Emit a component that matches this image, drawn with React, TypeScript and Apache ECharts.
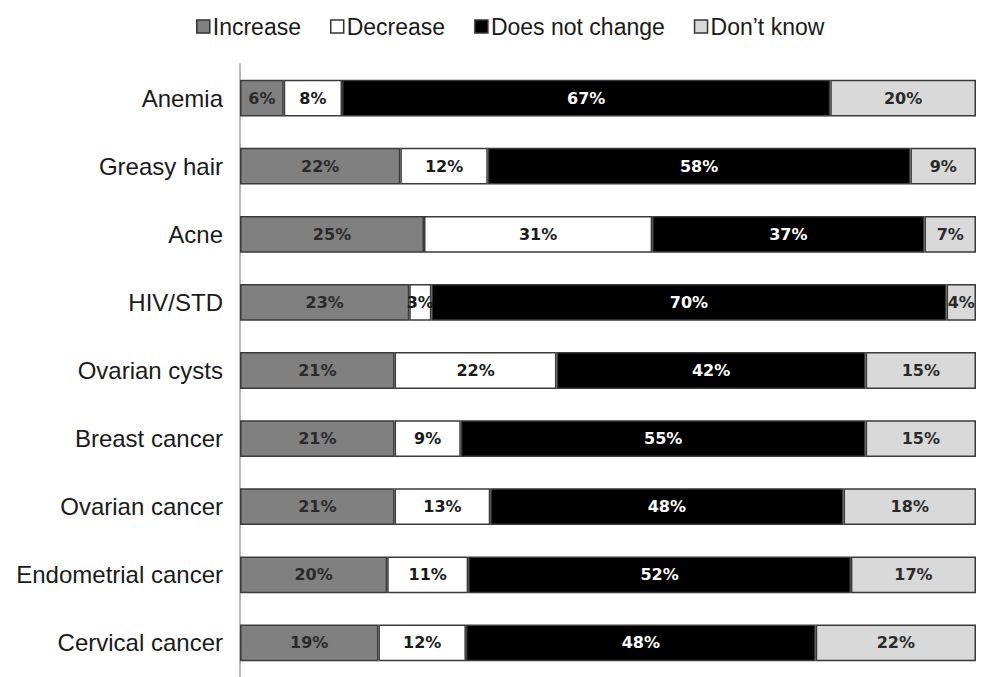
import React, { useEffect, useRef } from "react";
import * as echarts from "echarts";

const categories = [
  "Anemia",
  "Greasy hair",
  "Acne",
  "HIV/STD",
  "Ovarian cysts",
  "Breast cancer",
  "Ovarian cancer",
  "Endometrial cancer",
  "Cervical cancer",
];
const increase = [6, 22, 25, 23, 21, 21, 21, 20, 19];
const decrease = [8, 12, 31, 3, 22, 9, 13, 11, 12];
const noChange = [67, 58, 37, 70, 42, 55, 48, 52, 48];
const dontKnow = [20, 9, 7, 4, 15, 15, 18, 17, 22];
const seriesNames = ["Increase", "Decrease", "Does not change", "Don\u2019t know"];

const fills = ["#808080", "#ffffff", "#000000", "#d9d9d9"];
const labelColors = ["#2a2a2a", "#1a1a1a", "#ffffff", "#2a2a2a"];

export default function App() {
  const ref = useRef<HTMLDivElement>(null);
  useEffect(() => {
    if (!ref.current) return;
    const chart = echarts.init(ref.current, null, { renderer: "svg" });
    const all = [increase, decrease, noChange, dontKnow];
    const sums = categories.map((_, i) => all.reduce((s, arr) => s + arr[i], 0));
    const ordered = (arr: number[]) => arr.slice().reverse();
    const revSums = ordered(sums);
    chart.setOption({
      animation: false,
      backgroundColor: "#ffffff",
      legend: {
        top: 10,
        left: 191,
        itemWidth: 13,
        itemHeight: 13,
        itemGap: 29,
        icon: "rect",
        textStyle: { fontFamily: "Liberation Sans", fontSize: 23, color: "#1a1a1a", padding: [0, 0, 0, -2] },
        data: seriesNames.map((n, i) => ({
          name: n,
          itemStyle: { color: fills[i], borderColor: "#333", borderWidth: 1.5 },
        })),
      },
      grid: { left: 240, right: 11, top: 64, bottom: -6, containLabel: false },
      xAxis: {
        type: "value",
        min: 0,
        max: 100,
        show: false,
      },
      yAxis: {
        type: "category",
        data: ordered(categories),
        axisLine: { show: true, lineStyle: { color: "#b8b8b8", width: 2 } },
        axisTick: { show: false },
        axisLabel: {
          fontFamily: "Liberation Sans",
          fontSize: 24,
          color: "#1a1a1a",
          margin: 17,
        },
      },
      series: all.map((arr, si) => {
        const rev = ordered(arr);
        return {
          name: seriesNames[si],
          type: "bar",
          stack: "total",
          barCategoryGap: "46%",
          data: rev.map((v, i) => ({ value: (v / revSums[i]) * 100, raw: v })),
          itemStyle: { color: fills[si], borderColor: "#3a3a3a", borderWidth: 1.5 },
          label: {
            show: true,
            position: "inside",
            fontFamily: "DejaVu Sans",
            fontSize: 16,
            fontWeight: "bold",
            color: labelColors[si],
            formatter: (p: any) => `${p.data.raw}%`,
          },
        };
      }),
    });
    return () => chart.dispose();
  }, []);
  return (
    <div
      ref={ref}
      style={{ position: "fixed", left: 0, top: 0, width: 987, height: 677, background: "#fff" }}
    />
  );
}
